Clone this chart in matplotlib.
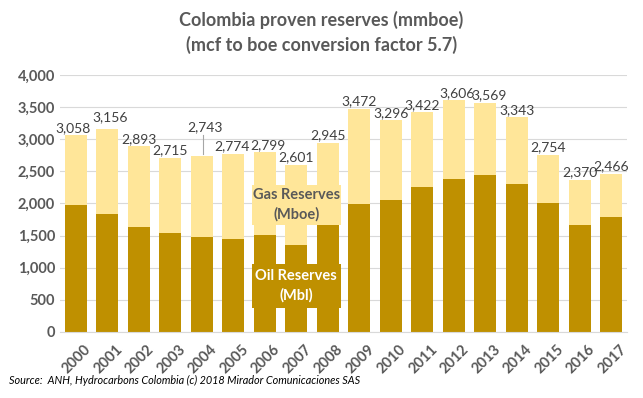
import matplotlib.pyplot as plt
import matplotlib.transforms as mtrans
from matplotlib.patches import Rectangle
import numpy as np

years = [str(y) for y in range(2000, 2018)]
oil = [1972, 1842, 1632, 1542, 1478, 1453, 1510, 1358, 1668,
       1988, 2058, 2259, 2377, 2445, 2308, 2002, 1665, 1782]
total = [3058, 3156, 2893, 2715, 2743, 2774, 2799, 2601, 2945,
         3472, 3296, 3422, 3606, 3569, 3343, 2754, 2370, 2466]
gas = [t - o for t, o in zip(total, oil)]

plt.rcParams['font.family'] = ['Lato', 'DejaVu Sans']
dark = '#BF9000'
light = '#FFE699'
txt = '#595959'

fig = plt.figure(figsize=(6.43, 3.98), dpi=100)
ax = fig.add_axes([0.0933, 0.166, 0.882, 0.6456])

x = np.arange(len(years))
ax.bar(x, oil, width=0.7, color=dark, zorder=2)
ax.bar(x, gas, width=0.7, bottom=oil, color=light, zorder=2)

# label offsets (points) to mimic the hand-placed labels
offs = {0: (-2, 0), 1: (2, 3), 5: (-1, 0), 6: (2, 0), 12: (2, 0), 13: (3, 0)}
for i, t in enumerate(total):
    dx, dy = offs.get(i, (0, 0))
    if i == 4:
        ax.plot([i + 0.03, i + 0.03], [t + 20, t + 330], color='#A6A6A6', lw=0.8, zorder=3)
        ax.annotate(f'{t:,}', (i, t), xytext=(2, 16), textcoords='offset points',
                    ha='center', va='bottom', fontsize=10, color='#404040')
        continue
    ax.annotate(f'{t:,}', (i, t), xytext=(dx, 1 + dy), textcoords='offset points',
                ha='center', va='bottom', fontsize=10, color='#404040')

# legend-like boxes inside the chart
ax.add_patch(Rectangle((5.6, 1670), 2.82, 620, fc=light, ec='none', zorder=3))
ax.add_patch(Rectangle((5.6, 375), 2.82, 690, fc=dark, ec='none', zorder=3))
ax.text(7.0, 1980, 'Gas Reserves\n(Mboe)', ha='center', va='center', fontsize=10.5,
        fontweight='bold', color=txt, linespacing=1.4, zorder=4)
ax.text(7.0, 715, 'Oil Reserves\n(Mbl)', ha='center', va='center', fontsize=10.5,
        fontweight='bold', color='white', linespacing=1.4, zorder=4)

ax.set_xlim(-0.5, len(years) - 0.5)
ax.set_ylim(0, 4000)
ax.set_yticks(np.arange(0, 4001, 500))
ax.set_yticklabels([f'{v:,}' for v in range(0, 4001, 500)])
ax.set_xticks(x)
ax.set_xticklabels(years, rotation=45, ha='right', rotation_mode='anchor')
ax.tick_params(length=0, labelsize=10.5, labelcolor=txt)
ax.tick_params(axis='x', pad=5, labelsize=10.5)
shift = mtrans.ScaledTranslation(0.08, -0.03, fig.dpi_scale_trans)
for lab in ax.get_xticklabels():
    lab.set_transform(lab.get_transform() + shift)
for lab in ax.get_xticklabels() + ax.get_yticklabels():
    lab.set_fontweight('bold')
ax.grid(axis='y', color='#D9D9D9', lw=0.8, zorder=0)
for s in ['top', 'right', 'left']:
    ax.spines[s].set_visible(False)
ax.spines['bottom'].set_color('#D9D9D9')

fig.text(0.5, 0.95, 'Colombia proven reserves (mmboe)', ha='center', va='center',
         fontsize=13, fontweight='bold', color=txt)
fig.text(0.5, 0.887, '(mcf to boe conversion factor 5.7)', ha='center', va='center',
         fontsize=13, fontweight='bold', color=txt)
fig.text(0.014, 0.035, 'Source:  ANH, Hydrocarbons Colombia (c) 2018 Mirador Comunicaciones SAS',
         fontsize=7.8, style='italic', color='black')

fig.savefig('out.png', dpi=100)
